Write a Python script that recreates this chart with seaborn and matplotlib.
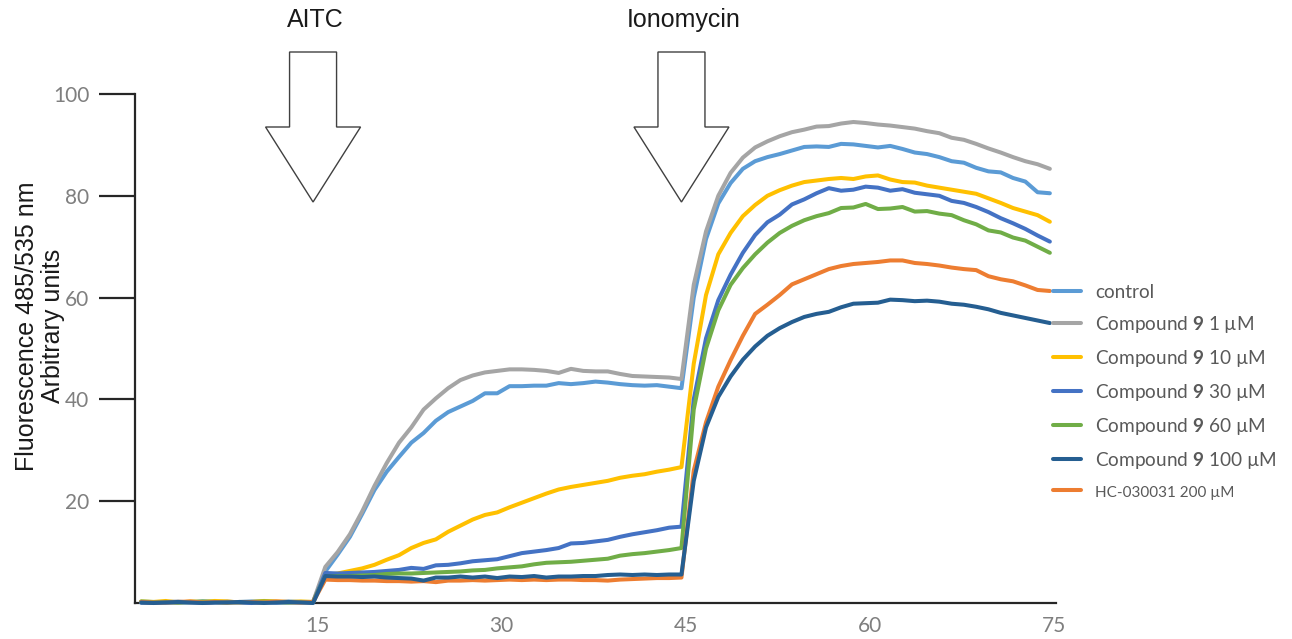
import numpy as np
import pandas as pd
import seaborn as sns
import matplotlib
matplotlib.use("Agg")
import matplotlib.pyplot as plt
from matplotlib.patches import FancyArrow
from matplotlib.transforms import ScaledTranslation

# ---------------- data ----------------
time = list(range(1, 76))

control = [0.1, 0.2, 0.0, 0.2, 0.1, 0.3, 0.2, 0.1, 0.2, 0.3, 0.2, 0.1, 0.3, 0.2, 0.2,
           6.2, 9.5, 13.0, 17.5, 22.2, 25.8, 28.7, 31.5, 33.4, 35.8, 37.5, 38.6, 39.7, 41.2, 41.2,
           42.6, 42.6, 42.7, 42.7, 43.2, 43.0, 43.2, 43.5, 43.3, 43.0, 42.8, 42.7, 42.8, 42.5, 42.2,
           60.0, 71.5, 78.5, 82.5, 85.3, 86.8, 87.6, 88.2, 88.9, 89.6, 89.7, 89.6, 90.2, 90.1, 89.8,
           89.5, 89.8, 89.2, 88.5, 88.2, 87.6, 86.8, 86.5, 85.5, 84.8, 84.6, 83.5, 82.8, 80.7, 80.5]

cpd_1uM = [0.2, 0.1, 0.2, 0.3, 0.1, 0.2, 0.2, 0.3, 0.1, 0.2, 0.3, 0.2, 0.2, 0.1, 0.2,
           7.1, 10.0, 13.5, 18.0, 23.0, 27.5, 31.5, 34.5, 38.0, 40.2, 42.2, 43.8, 44.7, 45.3, 45.6,
           45.9, 45.9, 45.8, 45.6, 45.2, 46.0, 45.6, 45.5, 45.5, 45.0, 44.6, 44.5, 44.4, 44.3, 44.0,
           62.5, 73.0, 80.0, 84.5, 87.5, 89.5, 90.7, 91.7, 92.5, 93.0, 93.6, 93.7, 94.2, 94.5, 94.3,
           94.0, 93.8, 93.5, 93.2, 92.7, 92.3, 91.4, 91.0, 90.2, 89.3, 88.5, 87.6, 86.8, 86.2, 85.3]

cpd_10uM = [0.3, 0.2, 0.4, 0.1, 0.3, 0.2, 0.4, 0.3, 0.1, 0.2, 0.4, 0.3, 0.2, 0.3, 0.2,
            5.5, 5.8, 6.3, 6.8, 7.5, 8.5, 9.4, 10.8, 11.8, 12.5, 14.0, 15.2, 16.4, 17.3, 17.8,
            18.8, 19.7, 20.6, 21.5, 22.3, 22.8, 23.2, 23.6, 24.0, 24.6, 25.0, 25.3, 25.8, 26.2, 26.7,
            47.0, 60.5, 68.5, 72.7, 76.0, 78.2, 80.0, 81.1, 82.0, 82.7, 83.0, 83.3, 83.5, 83.3, 83.8,
            84.0, 83.2, 82.7, 82.6, 82.0, 81.6, 81.2, 80.8, 80.4, 79.5, 78.6, 77.6, 76.9, 76.2, 74.9]

cpd_30uM = [0.1, 0.0, 0.2, 0.1, 0.2, 0.0, 0.1, 0.2, 0.1, 0.0, 0.2, 0.1, 0.1, 0.2, 0.1,
            5.9, 5.8, 5.9, 6.0, 6.1, 6.3, 6.5, 6.9, 6.7, 7.4, 7.5, 7.8, 8.2, 8.4, 8.6,
            9.2, 9.8, 10.1, 10.4, 10.8, 11.7, 11.8, 12.1, 12.4, 13.0, 13.5, 13.9, 14.3, 14.8, 15.0,
            40.0, 52.0, 59.5, 64.5, 68.8, 72.3, 74.8, 76.3, 78.3, 79.3, 80.5, 81.5, 81.0, 81.2, 81.8,
            81.6, 81.0, 81.3, 80.6, 80.3, 80.0, 79.0, 78.6, 77.8, 76.8, 75.6, 74.6, 73.5, 72.2, 71.0]

cpd_60uM = [0.3, 0.2, 0.2, 0.1, 0.2, 0.3, 0.2, 0.1, 0.2, 0.2, 0.3, 0.2, 0.1, 0.2, 0.2,
            5.2, 5.3, 5.3, 5.4, 5.5, 5.7, 5.8, 5.8, 5.9, 6.0, 6.1, 6.2, 6.4, 6.5, 6.8,
            7.0, 7.2, 7.6, 7.9, 8.0, 8.1, 8.3, 8.5, 8.7, 9.3, 9.6, 9.8, 10.1, 10.4, 10.8,
            38.0, 50.0, 57.5, 62.5, 65.8, 68.5, 70.8, 72.7, 74.1, 75.2, 76.0, 76.6, 77.6, 77.7, 78.4,
            77.4, 77.5, 77.8, 76.9, 77.0, 76.5, 76.2, 75.2, 74.4, 73.2, 72.8, 71.8, 71.2, 70.0, 68.8]

cpd_100uM = [0.1, 0.0, 0.1, 0.2, 0.1, 0.0, 0.1, 0.1, 0.2, 0.1, 0.0, 0.1, 0.2, 0.1, 0.0,
             5.3, 5.2, 5.2, 5.1, 5.2, 5.0, 4.9, 4.8, 4.4, 5.0, 5.0, 5.2, 5.0, 5.2, 4.9,
             5.2, 5.1, 5.3, 5.0, 5.2, 5.2, 5.3, 5.3, 5.5, 5.6, 5.5, 5.6, 5.5, 5.6, 5.6,
             24.0, 34.5, 40.5, 44.5, 47.8, 50.4, 52.5, 54.0, 55.2, 56.2, 56.8, 57.2, 58.1, 58.8, 58.9,
             59.0, 59.6, 59.5, 59.3, 59.4, 59.2, 58.8, 58.6, 58.2, 57.7, 57.0, 56.5, 56.0, 55.5, 55.0]

hc_200uM = [0.2, 0.1, 0.1, 0.2, 0.3, 0.1, 0.2, 0.1, 0.2, 0.2, 0.1, 0.3, 0.2, 0.1, 0.2,
            4.6, 4.5, 4.5, 4.4, 4.4, 4.3, 4.3, 4.2, 4.3, 4.1, 4.4, 4.4, 4.5, 4.4, 4.5,
            4.6, 4.5, 4.6, 4.5, 4.6, 4.6, 4.5, 4.5, 4.4, 4.6, 4.7, 4.8, 4.9, 4.9, 5.0,
            26.0, 35.5, 42.5, 47.7, 52.5, 56.8, 58.6, 60.5, 62.6, 63.6, 64.6, 65.6, 66.2, 66.6, 66.8,
            67.0, 67.3, 67.3, 66.8, 66.6, 66.3, 65.9, 65.6, 65.4, 64.2, 63.6, 63.2, 62.4, 61.5, 61.3]

series_names = ["control", "Compound 9 1 µM", "Compound 9 10 µM", "Compound 9 30 µM",
                "Compound 9 60 µM", "Compound 9 100 µM", "HC-030031 200 µM"]
legend_labels = ["control", "Compound $\\mathbf{9}$ 1 µM", "Compound $\\mathbf{9}$ 10 µM",
                 "Compound $\\mathbf{9}$ 30 µM", "Compound $\\mathbf{9}$ 60 µM",
                 "Compound $\\mathbf{9}$ 100 µM", "HC-030031 200 µM"]
series_values = [control, cpd_1uM, cpd_10uM, cpd_30uM, cpd_60uM, cpd_100uM, hc_200uM]
colors = ["#5B9BD5", "#A5A5A5", "#FFC000", "#4472C4", "#70AD47", "#255E91", "#ED7D31"]

y_ticks = [20, 40, 60, 80, 100]
x_ticks = [15, 30, 45, 60, 75]
events = [(15, "AITC"), (45, "Ionomycin")]

for v in series_values:
    assert len(v) == len(time)

df = pd.concat([pd.DataFrame({"time": time, "value": v, "series": n})
                for n, v in zip(series_names, series_values)], ignore_index=True)

# ---------------- style ----------------
sns.set_style("white")
plt.rcParams["font.family"] = ["Lato", "DejaVu Sans"]
plt.rcParams["mathtext.fontset"] = "custom"
plt.rcParams["mathtext.rm"] = "Lato"
plt.rcParams["mathtext.bf"] = "Lato:bold"

W, H = 1292, 639
fig = plt.figure(figsize=(W / 100, H / 100), dpi=100)
ax_l, ax_r, ax_t, ax_b = 135, 1056, 94, 603
ax = fig.add_axes([ax_l / W, 1 - ax_b / H, (ax_r - ax_l) / W, (ax_b - ax_t) / H])

palette = dict(zip(series_names, colors))
sns.lineplot(data=df, x="time", y="value", hue="series", hue_order=series_names,
             palette=palette, linewidth=2.9, ax=ax, legend=False)
for line, name in zip(ax.lines, series_names):
    line.set_solid_capstyle("round")
    line.set_solid_joinstyle("round")
    line.set_clip_on(False)
    if name == "Compound 9 100 µM":
        line.set_zorder(3)

ax.set_xlim(0.5, 75.5)
ax.set_ylim(0, 100)
ax.set_xticks(x_ticks)
ax.set_yticks(y_ticks)
ax.set_xlabel("")
ax.set_ylabel("")

for s in ["top", "right"]:
    ax.spines[s].set_visible(False)
for s in ["left", "bottom"]:
    ax.spines[s].set_color("#262626")
    ax.spines[s].set_linewidth(1.6)
    ax.spines[s].set_zorder(1)

ax.tick_params(axis="y", length=26, width=1.6, color="#262626", pad=7,
               labelsize=15, labelcolor="#7F7F7F", direction="out", left=True)
ax.tick_params(axis="x", length=0, pad=9, labelsize=15, labelcolor="#7F7F7F")
for lbl in ax.get_xticklabels():
    lbl.set_transform(lbl.get_transform() + ScaledTranslation(4 / 100, 0, fig.dpi_scale_trans))

# y label
fig.text(40 / W, 1 - 326 / H, "Fluorescence 485/535 nm\nArbitrary units",
         rotation=90, ha="center", va="center", fontsize=18,
         family=["Liberation Sans", "DejaVu Sans"], color="#1a1a1a",
         multialignment="center", linespacing=1.15)

# block arrows and event labels
px_x = (ax_r - ax_l) / 75.0
px_y = (ax_b - ax_t) / 100.0
for xe, txt in events:
    top_y = (ax_b - 52) / px_y
    tip_y = (ax_b - 202) / px_y
    arr = FancyArrow(xe, top_y, 0, tip_y - top_y, width=47 / px_x,
                     head_width=95 / px_x, head_length=75 / px_y,
                     length_includes_head=True, facecolor="white",
                     edgecolor="#404040", linewidth=1.0, clip_on=False, zorder=5)
    ax.add_patch(arr)
    ax.text(xe + 0.2, (ax_b - 20) / px_y, txt, ha="center", va="center", fontsize=18,
            family=["Liberation Sans", "DejaVu Sans"], color="#1a1a1a", clip_on=False)

# legend
handles = [plt.Line2D([], [], color=c, linewidth=2.9) for c in colors]
leg = ax.legend(handles, legend_labels, loc="upper left",
                bbox_to_anchor=(1053 / W, 1 - 284 / H), bbox_transform=fig.transFigure,
                frameon=False, fontsize=13.7, handlelength=1.47, handletextpad=0.75,
                labelspacing=0.68, borderpad=0, borderaxespad=0)
for t in leg.get_texts():
    t.set_color("#595959")
leg.get_texts()[-1].set_fontsize(11)

fig.savefig("out.png", dpi=100)
